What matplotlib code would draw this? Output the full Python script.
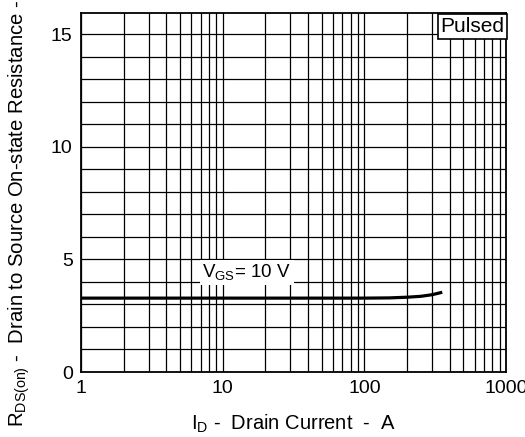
import matplotlib
matplotlib.use("Agg")
import matplotlib.pyplot as plt
from matplotlib.ticker import FixedLocator, LogLocator, NullFormatter

plt.rcParams['font.family'] = ['Liberation Sans', 'DejaVu Sans']
plt.rcParams['mathtext.fontset'] = 'custom'
plt.rcParams['mathtext.rm'] = 'Liberation Sans'
plt.rcParams['mathtext.it'] = 'Liberation Sans'

# dados
corrente_id = [1, 2, 5, 10, 20, 50, 100, 150, 200, 250, 300, 355]
rds_on = [3.28, 3.28, 3.28, 3.28, 3.28, 3.28, 3.28, 3.29, 3.32, 3.36, 3.43, 3.54]
xticks = [1, 10, 100, 1000]
xtick_labels = ["1", "10", "100", "1000"]
yticks = [0, 5, 10, 15]

fig = plt.figure(figsize=(5.25, 4.37), dpi=100)
ax = fig.add_axes([0.1543, 0.1487, 0.8095, 0.8223])

ax.plot(corrente_id, rds_on, color='black', lw=2.3, solid_capstyle='butt', zorder=3)

ax.set_xscale('log')
ax.set_xlim(1, 1000)
ax.set_ylim(0, 15.95)

ax.xaxis.set_major_locator(FixedLocator(xticks))
ax.set_xticklabels(xtick_labels)
ax.xaxis.set_minor_locator(LogLocator(base=10, subs=range(2, 10)))
ax.xaxis.set_minor_formatter(NullFormatter())
ax.yaxis.set_major_locator(FixedLocator(yticks))
ax.yaxis.set_minor_locator(FixedLocator(range(0, 16)))

ax.grid(True, which='both', color='black', lw=0.9)
ax.set_axisbelow(True)
ax.tick_params(which='both', length=0, labelsize=14, pad=6)
for s in ax.spines.values():
    s.set_linewidth(1.3)

# rótulo da curva
ax.text(14.8, 4.42, r'V$_{\mathrm{GS}}$= 10 V', fontsize=13.5, ha='center', va='center',
        bbox=dict(facecolor='white', edgecolor='none', pad=2), zorder=4)

# caixa "Pulsed"
ax.text(0.996, 0.988, 'Pulsed', transform=ax.transAxes, fontsize=15, ha='right', va='top',
        bbox=dict(facecolor='white', edgecolor='black', lw=1.2, pad=2), zorder=4)

fig.text(293.5 / 525, 2 / 437, r'I$_{\mathrm{D}}$ -  Drain Current  -  A', fontsize=14.5,
         ha='center', va='bottom')
fig.text(6 / 525, 10 / 437, r'R$_{\mathrm{DS(on)}}$ -  Drain to Source On-state Resistance -',
         fontsize=14.6, rotation=90, ha='left', va='bottom')

fig.savefig('out.png', dpi=100)
